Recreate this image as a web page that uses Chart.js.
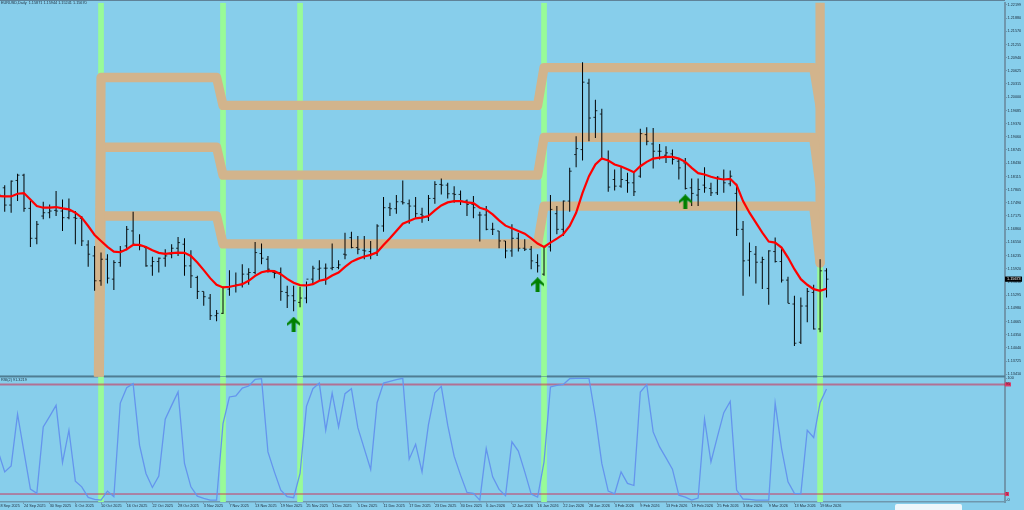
<!DOCTYPE html>
<html>
<head>
<meta charset="utf-8">
<title>EURUSD Daily</title>
<script src="https://cdn.jsdelivr.net/npm/chart.js"></script>
<style>
    html, body { margin: 0; padding: 0; background: #87CEEB; overflow: hidden; }
    canvas { display: block; }
</style>
</head>
<body>
<canvas id="chart" width="1024" height="510"></canvas>
<script>
// Daily bars, 18 Sep 2025 to 20 Mar 2026
const highs = [1.17885,1.17909,1.18020,1.18178,1.18178,1.17546,1.17056,1.17514,1.17451,1.17767,
    1.17569,1.17593,1.17293,1.17174,1.16598,1.16463,1.16305,1.16266,1.16124,1.16463,
    1.16937,1.17277,1.16740,1.16463,1.16203,1.16187,1.16384,1.16503,1.16677,1.16645,
    1.16361,1.15752,1.15381,1.15318,1.14939,1.15492,1.15887,1.15831,1.16029,1.15934,
    1.16558,1.16519,1.16226,1.15871,1.15950,1.15515,1.15515,1.15492,1.15618,1.15989,
    1.16124,1.16045,1.16519,1.16124,1.16779,1.16803,1.16700,1.16700,1.16582,1.16977,
    1.17625,1.17490,1.17672,1.18020,1.17569,1.17625,1.17372,1.17672,1.18004,1.18067,
    1.17964,1.17885,1.17783,1.17569,1.17648,1.17277,1.17411,1.17016,1.16819,1.16582,
    1.16977,1.16779,1.16621,1.16463,1.16266,1.16463,1.17672,1.17411,1.17546,1.18320,
    1.19071,1.20832,1.20437,1.19940,1.19726,1.18731,1.18280,1.18359,1.18201,1.18241,
    1.19252,1.19284,1.19268,1.18889,1.18834,1.18755,1.18541,1.18557,1.18067,1.18067,
    1.18336,1.17964,1.18122,1.18280,1.18257,1.17941,1.17056,1.16542,1.16463,1.16203,
    1.16361,1.16661,1.16440,1.15729,1.15278,1.15239,1.15460,1.15539,1.16147,1.15934];
const lows = [1.17569,1.17277,1.17253,1.17530,1.17277,1.16440,1.16503,1.17095,1.17119,1.17174,
    1.16819,1.17095,1.16503,1.16463,1.15966,1.15397,1.15515,1.15571,1.15413,1.15966,
    1.16361,1.16503,1.16361,1.15966,1.15752,1.15831,1.15966,1.16171,1.16226,1.15752,
    1.15460,1.15199,1.15041,1.14702,1.14670,1.14844,1.15278,1.15357,1.15476,1.15539,
    1.15792,1.16029,1.15831,1.15697,1.15160,1.14986,1.14907,1.15002,1.15097,1.15539,
    1.15650,1.15539,1.15887,1.15910,1.16147,1.16408,1.16266,1.16147,1.16147,1.16226,
    1.16803,1.17174,1.17230,1.17451,1.16993,1.17135,1.17016,1.17056,1.17467,1.17688,
    1.17593,1.17490,1.17435,1.17174,1.17119,1.16566,1.16835,1.16724,1.16408,1.16171,
    1.16203,1.16329,1.16345,1.15910,1.15831,1.15752,1.16329,1.16740,1.16700,1.17277,
    1.18336,1.18494,1.18952,1.19031,1.18518,1.17751,1.17783,1.17846,1.17727,1.17648,
    1.18083,1.18857,1.18304,1.18518,1.18438,1.18399,1.18043,1.17806,1.17411,1.17411,
    1.17727,1.17648,1.17672,1.17727,1.17885,1.16700,1.15278,1.15737,1.15571,1.15436,
    1.15065,1.16068,1.15594,1.15097,1.14086,1.14133,1.14646,1.14473,1.14409,1.15239];
const opens = [1.17806,1.17846,1.17435,1.18020,1.18146,1.17356,1.16645,1.17174,1.17253,1.17309,
    1.17293,1.17135,1.17135,1.17119,1.16487,1.16226,1.15634,1.16147,1.15673,1.16068,
    1.16463,1.16819,1.16487,1.16424,1.15989,1.16092,1.16171,1.16266,1.16408,1.16503,
    1.15989,1.15713,1.15381,1.15223,1.14804,1.14860,1.15436,1.15515,1.15539,1.15792,
    1.15831,1.16282,1.16147,1.15831,1.15831,1.15357,1.15278,1.15120,1.15223,1.15673,
    1.15910,1.15934,1.15934,1.15950,1.16266,1.16661,1.16424,1.16361,1.16329,1.16282,
    1.16937,1.17372,1.17348,1.17514,1.17467,1.17411,1.17214,1.17151,1.17593,1.17925,
    1.17909,1.17704,1.17688,1.17530,1.17451,1.17198,1.17198,1.16858,1.16819,1.16582,
    1.16345,1.16645,1.16408,1.16384,1.16068,1.15792,1.16440,1.17230,1.16858,1.17530,
    1.18636,1.18755,1.20335,1.19521,1.19600,1.18518,1.18043,1.17885,1.18020,1.17964,
    1.18122,1.19110,1.18889,1.18715,1.18620,1.18652,1.18478,1.18438,1.17846,1.17672,
    1.17909,1.17830,1.17727,1.18043,1.17941,1.17712,1.16858,1.16124,1.16266,1.16076,
    1.15452,1.16329,1.16092,1.15650,1.15081,1.14172,1.15034,1.15357,1.14488,1.15871];
const closes = [1.17688,1.17435,1.18004,1.18146,1.17356,1.16645,1.16977,1.17253,1.17293,1.17293,
    1.17135,1.17293,1.17119,1.16582,1.16266,1.15634,1.16147,1.15697,1.16068,1.16345,
    1.16858,1.16503,1.16463,1.15989,1.16092,1.16171,1.16226,1.16408,1.16542,1.15989,
    1.15752,1.15381,1.15255,1.14804,1.14860,1.15476,1.15492,1.15539,1.15792,1.15831,
    1.16305,1.16171,1.15910,1.15808,1.15381,1.15278,1.15160,1.15223,1.15673,1.15934,
    1.15934,1.15934,1.15950,1.16013,1.16250,1.16424,1.16384,1.16345,1.16266,1.16937,
    1.17372,1.17348,1.17514,1.17490,1.17411,1.17230,1.17174,1.17593,1.17925,1.17909,
    1.17704,1.17688,1.17530,1.17451,1.17372,1.17198,1.16858,1.16858,1.16582,1.16345,
    1.16645,1.16408,1.16384,1.16108,1.15989,1.16440,1.17332,1.16858,1.17530,1.18241,
    1.18778,1.20358,1.19505,1.19679,1.18541,1.17862,1.17885,1.18043,1.17964,1.17751,
    1.19134,1.18952,1.18715,1.18715,1.18676,1.18518,1.18320,1.17830,1.17712,1.17806,
    1.17846,1.17727,1.18099,1.17964,1.18122,1.16858,1.16108,1.16329,1.16076,1.16140,
    1.16345,1.16092,1.15650,1.15097,1.14149,1.15034,1.15381,1.14488,1.15871,1.15673];

// Red moving average
const movingAvg = [1.17648,1.17641,1.17641,1.17704,1.17720,1.17569,1.17411,1.17372,1.17372,1.17388,
    1.17356,1.17332,1.17253,1.17135,1.16937,1.16724,1.16582,1.16440,1.16329,1.16313,
    1.16384,1.16487,1.16487,1.16440,1.16361,1.16298,1.16274,1.16290,1.16305,1.16298,
    1.16226,1.16068,1.15887,1.15697,1.15539,1.15476,1.15492,1.15523,1.15555,1.15634,
    1.15752,1.15839,1.15871,1.15863,1.15792,1.15681,1.15587,1.15531,1.15523,1.15555,
    1.15634,1.15666,1.15760,1.15831,1.15966,1.16084,1.16155,1.16211,1.16250,1.16313,
    1.16487,1.16645,1.16819,1.16993,1.17056,1.17119,1.17135,1.17174,1.17309,1.17427,
    1.17498,1.17530,1.17530,1.17498,1.17483,1.17372,1.17325,1.17214,1.17072,1.16945,
    1.16882,1.16819,1.16756,1.16645,1.16519,1.16440,1.16542,1.16637,1.16740,1.16937,
    1.17253,1.17727,1.18122,1.18399,1.18541,1.18494,1.18399,1.18352,1.18288,1.18217,
    1.18359,1.18462,1.18541,1.18565,1.18581,1.18581,1.18541,1.18462,1.18320,1.18194,
    1.18162,1.18107,1.18067,1.18043,1.18059,1.17909,1.17530,1.17253,1.17016,1.16779,
    1.16566,1.16542,1.16424,1.16187,1.15910,1.15673,1.15539,1.15436,1.15397,1.15444];

// RSI(2) pane
const rsiValues = [39.6,23.2,28.1,70.5,39.6,9.0,5.5,60.1,68.8,77.8,
    30.9,57.4,15.6,10.9,2.2,0.6,0.0,7.4,2.8,79.7,
    92.3,95.6,45.1,21.9,10.4,19.7,66.4,77.8,88.8,30.1,
    10.9,3.3,1.4,0.0,0.0,62.8,84.7,85.5,92.0,93.7,
    99.1,99.7,39.6,23.2,8.2,2.8,2.0,21.9,77.0,91.5,
    96.1,57.4,87.9,60.1,87.4,91.5,59.5,42.3,25.1,80.0,
    96.1,97.5,98.9,100,33.6,45.9,23.2,62.0,88.2,93.4,
    61.5,36.1,20.5,6.3,5.5,0.0,42.3,19.1,8.8,3.6,
    47.8,40.2,23.2,4.9,2.5,31.4,92.9,94.2,95.0,99.7,
    100,100,100,68.3,30.1,7.4,5.2,23.2,13.7,12.0,
    88.8,94.8,56.0,43.7,34.7,25.4,4.1,2.5,0.0,1.7,
    66.4,31.4,51.9,71.8,81.1,8.2,0.9,0.6,0.0,0.0,
    0.0,79.7,42.3,15.0,5.5,5.2,57.4,51.4,80.0,91.32];
const rsiLevels = [95, 5];
const rsiTicks = [0, 100];

// Tan channel, only the bars where it changes level
const channelBars = [15, 16, 34, 35, 84, 85, 127, 128];
const channelUpper = [1.02836, 1.20469, 1.20469, 1.19805, 1.19805, 1.20706, 1.20706, 1.19782];
const channelMiddle = [1.02836, 1.18810, 1.18810, 1.18146, 1.18146, 1.19047, 1.19047, 1.17885];
const channelLower = [1.02836, 1.17175, 1.17175, 1.16511, 1.16511, 1.17412, 1.17412, 1.16061];
const channelBreakBars = [128, 128];
const channelBreakPrices = [1.16061, 1.24000];

// Green signals
const signalBars = [16, 35, 47, 85, 128];
const arrowBars = [46, 84, 107];
const arrowPrices = [1.14603, 1.15539, 1.17511];

// Axis labels
const priceTicks = [1.22199,1.21880,1.21570,1.21255,1.20940,1.20625,1.20315,1.20000,1.19685,1.19370,
    1.19060,1.18745,1.18430,1.18115,1.17805,1.17490,1.17175,1.16860,1.16550,1.16235,
    1.15920,1.15610,1.15295,1.14980,1.14665,1.14350,1.14040,1.13725,1.13410];
const dateBars = [0,4,8,12,16,20,24,28,32,36,40,44,48,52,56,60,64,68,72,76,80,84,88,92,96,100,104,108,112,116,120,124,128];
const dateLabels = ['18 Sep 2025','24 Sep 2025','30 Sep 2025','6 Oct 2025','10 Oct 2025','16 Oct 2025','22 Oct 2025','28 Oct 2025',
    '3 Nov 2025','7 Nov 2025','13 Nov 2025','19 Nov 2025','25 Nov 2025','1 Dec 2025','5 Dec 2025','11 Dec 2025','17 Dec 2025',
    '23 Dec 2025','30 Dec 2025','6 Jan 2026','12 Jan 2026','16 Jan 2026','22 Jan 2026','28 Jan 2026','3 Feb 2026','9 Feb 2026',
    '13 Feb 2026','19 Feb 2026','25 Feb 2026','3 Mar 2026','9 Mar 2026','13 Mar 2026','19 Mar 2026'];

const priceMin = 1.13359, priceMax = 1.22246;
const rsiMin = -1.55, rsiMax = 101.55;
const barMin = 0.265, barMax = 156.8;

const axisColor = '#6f97ad';
const tickFont = { family: 'Liberation Sans', size: 3.8 };
const textColor = '#1c2c3c';

// Turns two parallel arrays into chart points
function toPoints(xs, ys) {
    return xs.map((x, i) => ({ x: x, y: ys[i] }));
}

// Green up arrow used as a point style
function makeArrow() {
    const c = document.createElement('canvas');
    c.width = 13;
    c.height = 15;
    const g = c.getContext('2d');
    const shape = [[6.5,0],[13,6.5],[13,9],[8.5,6],[8.5,15],[4.5,15],[4.5,6],[0,9],[0,6.5]];
    g.fillStyle = '#008000';
    g.beginPath();
    shape.forEach((p, i) => i ? g.lineTo(p[0], p[1]) : g.moveTo(p[0], p[1]));
    g.closePath();
    g.fill();
    return c;
}

function channelDataset(values) {
    return {
        type: 'line', data: toPoints(channelBars, values), yAxisID: 'y', order: 9,
        borderColor: '#D2B48C', borderWidth: 9.3, borderJoinStyle: 'round', borderCapStyle: 'round',
        pointRadius: 0, tension: 0
    };
}

function signalDataset(axis, low, high) {
    return {
        type: 'bar', yAxisID: axis, order: 10, grouped: false, barThickness: 5.7, inflateAmount: 0,
        backgroundColor: '#98FB98',
        data: signalBars.map(k => ({ x: k, y: [low, high] }))
    };
}

function tickDataset(values, rotation) {
    return {
        type: 'line', data: values.map((v, k) => ({ x: k, y: v })), yAxisID: 'y', order: 5,
        showLine: false, pointStyle: 'dash', pointRotation: rotation, pointRadius: 2,
        pointBorderColor: 'rgba(0,0,0,0.85)', pointBorderWidth: 0.9
    };
}

function levelDataset(level, color, width) {
    return {
        type: 'line', yAxisID: 'rsi', order: 4, borderColor: color, borderWidth: width, pointRadius: 0,
        data: [{ x: barMin, y: level }, { x: barMax, y: level }]
    };
}

// Pane lines drawn under the data
const paneLines = {
    id: 'paneLines',
    beforeDatasetsDraw(chart) {
        const ctx = chart.ctx;
        const top = chart.scales.rsi.top;
        ctx.save();
        ctx.fillStyle = '#5f8298';
        ctx.fillRect(0, 0, 1005, 1);
        ctx.fillStyle = '#4f7d93';
        ctx.fillRect(0, top - 1, 1005, 2);
        ctx.restore();
    }
};

// Header texts and the tags on the right axis
const paneLabels = {
    id: 'paneLabels',
    afterDraw(chart) {
        const ctx = chart.ctx;
        const y = chart.scales.y, rsi = chart.scales.rsi;
        const lastClose = closes[closes.length - 1];
        ctx.save();
        ctx.font = '3.8px "Liberation Sans"';
        ctx.textBaseline = 'middle';
        ctx.fillStyle = textColor;
        ctx.fillText('EURUSD,Daily  1.15871 1.15944 1.15241 1.15670', 1, 3.4);
        ctx.fillText('RSI(2) 91.3219', 1, 379.8);

        const tagY = y.getPixelForValue(lastClose);
        ctx.fillStyle = '#000';
        ctx.fillRect(1005, tagY - 2.6, 17, 5.2);
        ctx.fillStyle = '#fff';
        ctx.fillText(lastClose.toFixed(5), 1007, tagY);

        rsiLevels.forEach(level => {
            const boxY = rsi.getPixelForValue(level);
            const w = level > 9 ? 6 : 4;
            ctx.fillStyle = '#dc3c68';
            ctx.fillRect(1005, boxY - 2, w, 4);
            ctx.fillStyle = '#5a1028';
            ctx.fillText(String(level), 1006, boxY);
        });

        // rounded white box cut by the bottom edge
        ctx.fillStyle = '#eef7fb';
        ctx.beginPath();
        ctx.roundRect(895, 504, 67, 10, 2);
        ctx.fill();
        ctx.restore();
    }
};

function drawChart() {
    const ctx = document.getElementById('chart').getContext('2d');
    new Chart(ctx, {
        type: 'bar',
        plugins: [paneLines, paneLabels],
        data: {
            datasets: [
                signalDataset('y', priceMin, priceMax),
                signalDataset('rsi', rsiMin, rsiMax),
                channelDataset(channelUpper),
                channelDataset(channelMiddle),
                channelDataset(channelLower),
                {
                    type: 'line', data: toPoints(channelBreakBars, channelBreakPrices), yAxisID: 'y', order: 9,
                    borderColor: '#D2B48C', borderWidth: 9.3, borderCapStyle: 'round', pointRadius: 0
                },
                {
                    type: 'bar', yAxisID: 'y', order: 5, grouped: false, barThickness: 1, inflateAmount: 0,
                    backgroundColor: '#000',
                    data: highs.map((h, k) => ({ x: k, y: [lows[k], h] }))
                },
                tickDataset(opens, 180),
                tickDataset(closes, 0),
                {
                    type: 'line', data: movingAvg.map((v, k) => ({ x: k, y: v })), yAxisID: 'y', order: 3,
                    borderColor: '#ff0000', borderWidth: 2.2, pointRadius: 0, tension: 0
                },
                {
                    type: 'line', data: toPoints(arrowBars, arrowPrices), yAxisID: 'y', order: 2,
                    showLine: false, pointStyle: makeArrow(), pointRadius: 7
                },
                levelDataset(rsiLevels[0], 'rgba(220,20,60,0.5)', 2),
                levelDataset(rsiLevels[1], 'rgba(220,20,60,0.8)', 1),
                {
                    type: 'line', data: rsiValues.map((v, k) => ({ x: k, y: v })), yAxisID: 'rsi', order: 3,
                    borderColor: '#6495ED', borderWidth: 1.3, pointRadius: 0, tension: 0
                }
            ]
        },
        options: {
            responsive: false,
            animation: false,
            events: [],
            layout: { autoPadding: false, padding: { top: 1 } },
            plugins: { legend: { display: false }, tooltip: { enabled: false } },
            scales: {
                x: {
                    type: 'linear', min: barMin, max: barMax, offset: false,
                    border: { color: axisColor, width: 1.5 },
                    grid: { offset: false, drawOnChartArea: false, tickLength: 2, tickColor: axisColor },
                    afterBuildTicks(scale) { scale.ticks = dateBars.map(k => ({ value: k })); },
                    afterFit(scale) {
                        scale.height = 8;
                        scale.paddingLeft = 0;
                        scale.paddingRight = 0;
                    },
                    ticks: {
                        autoSkip: false, maxRotation: 0, align: 'start', padding: 0,
                        font: tickFont, color: textColor,
                        callback: (v, i) => dateLabels[i]
                    }
                },
                y: {
                    type: 'linear', position: 'right', stack: 'panes', stackWeight: 375,
                    min: priceMin, max: priceMax,
                    border: { color: axisColor, width: 2 },
                    grid: { drawOnChartArea: false, tickLength: 2, tickColor: axisColor },
                    afterBuildTicks(scale) { scale.ticks = priceTicks.map(p => ({ value: p })); },
                    afterFit(scale) { scale.width = 19; },
                    ticks: { autoSkip: false, padding: 0.5, font: tickFont, color: textColor, callback: v => v.toFixed(5) }
                },
                rsi: {
                    type: 'linear', position: 'right', stack: 'panes', stackWeight: 126,
                    min: rsiMin, max: rsiMax,
                    border: { color: axisColor, width: 2 },
                    grid: { drawOnChartArea: false, tickLength: 2, tickColor: axisColor },
                    afterBuildTicks(scale) { scale.ticks = rsiTicks.map(v => ({ value: v })); },
                    afterFit(scale) { scale.width = 19; },
                    ticks: { autoSkip: false, padding: 0.5, font: tickFont, color: textColor, callback: v => String(v) }
                }
            }
        }
    });
}

window.onload = drawChart;
</script>
</body>
</html>
